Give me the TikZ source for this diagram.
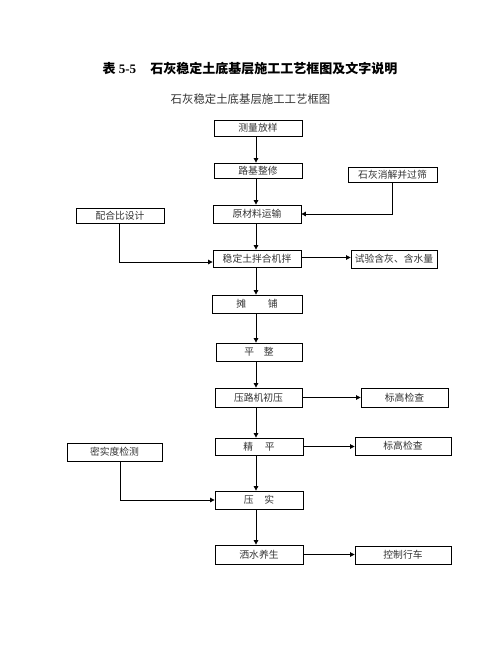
\documentclass[tikz,border=0pt]{standalone}
\usepackage{fontspec}
\newfontfamily\cjk{Noto Sans CJK SC}
\newfontfamily\lserif{Liberation Serif}
\usetikzlibrary{arrows.meta,calc}
\begin{document}
\begin{tikzpicture}[x=1pt,y=-1pt,
  box/.style={draw,line width=0.8pt,inner sep=0pt,text=black!80,font=\cjk\fontsize{9.8}{10}\selectfont},
  arr/.style={line width=0.8pt,-{Triangle[length=4.5pt,width=4.5pt]}}]
\useasboundingbox (0,0) rectangle (502,649);
\node[font=\cjk\bfseries\fontsize{13}{14}\selectfont] (title) at (250,69) {表{\lserif\bfseries\ 5-5}\hspace{1.1em}石灰稳定土底基层施工工艺框图及文字说明};
\node[font=\cjk\fontsize{11.4}{12}\selectfont,text=black!80] (sub) at (250.5,99) {石灰稳定土底基层施工工艺框图};
\coordinate (cx) at (256,0);
\node[box,minimum width=88,minimum height=16] (ce) at (258,128) {测量放样};
\node[box,minimum width=88,minimum height=15] (lj) at (258,170.5) {路基整修};
\node[box,minimum width=89,minimum height=15] (sh) at (392.5,174.5) {石灰消解并过筛};
\node[box,minimum width=88,minimum height=15] (ph) at (120,215.5) {配合比设计};
\node[box,minimum width=88,minimum height=18] (ycl) at (257,214) {原材料运输};
\node[box,minimum width=88,minimum height=17] (wd) at (257,258.5) {稳定土拌合机拌};
\node[box,minimum width=86,minimum height=18] (sy) at (394,259) {试验含灰、含水量};
\node[box,minimum width=90,minimum height=18] (tp) at (257,304) {摊\hspace{2.2em}铺};
\node[box,minimum width=86,minimum height=18] (pz) at (259,352) {平\hspace{1em}整};
\node[box,minimum width=87,minimum height=19] (ylj) at (258.5,397.5) {压路机初压};
\node[box,minimum width=87,minimum height=19] (bg1) at (404.5,397.5) {标高检查};
\node[box,minimum width=88,minimum height=17] (jp) at (259,446.5) {精\hspace{1.2em}平};
\node[box,minimum width=96,minimum height=18] (bg2) at (403,446) {标高检查};
\node[box,minimum width=95,minimum height=18] (mz) at (114.5,452) {密实度检测};
\node[box,minimum width=88,minimum height=18] (ys) at (259,500) {压\hspace{1.1em}实};
\node[box,minimum width=88,minimum height=19] (ss) at (259,554.5) {洒水养生};
\node[box,minimum width=96,minimum height=18] (kz) at (403,555) {控制行车};
\coordinate (wdo) at ($(wd.east)+(0,-1)$);
\coordinate (phin) at ($(wd.west)+(0,3.5)$);
% main flow
\draw[arr] (ce.south -| cx) -- (lj.north -| cx);
\draw[arr] (lj.south -| cx) -- (ycl.north -| cx);
\draw[arr] (ycl.south -| cx) -- (wd.north -| cx);
\draw[arr] (wd.south -| cx) -- (tp.north -| cx);
\draw[arr] (tp.south -| cx) -- (pz.north -| cx);
\draw[arr] (pz.south -| cx) -- (ylj.north -| cx);
\draw[arr] (ylj.south -| cx) -- (jp.north -| cx);
\draw[arr] (jp.south -| cx) -- (ys.north -| cx);
\draw[arr] (ys.south -| cx) -- (ss.north -| cx);
% side inputs
\draw[arr] (sh.south) |- (ycl.east);
\draw[arr] ([xshift=-1]ph.south) |- (phin);
\draw[arr] ([xshift=6]mz.south) |- (ys.west);
% side outputs
\draw[arr] (wdo) -- (wdo -| sy.west);
\draw[arr] (ylj.east) -- (ylj.east -| bg1.west);
\draw[arr] (jp.east) -- (jp.east -| bg2.west);
\draw[arr] (ss.east) -- (ss.east -| kz.west);
\end{tikzpicture}
\end{document}
